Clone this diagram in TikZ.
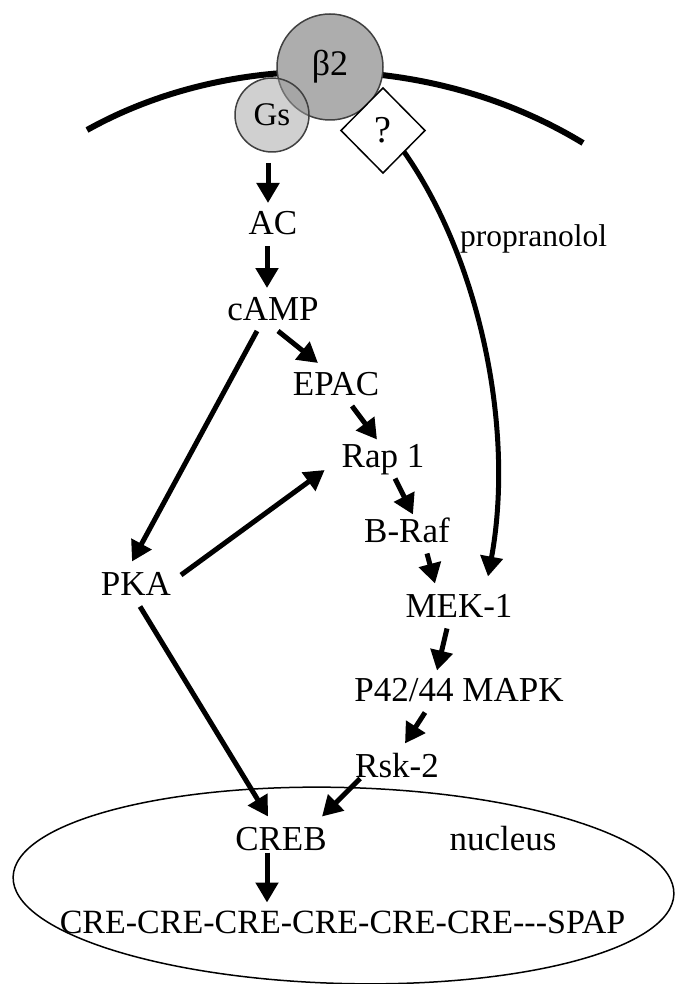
\documentclass[tikz,border=0pt]{standalone}
\usepackage{fontspec}
\setmainfont{Liberation Serif}
\usetikzlibrary{shapes.geometric,arrows.meta}

\definecolor{betagray}{gray}{0.68}
\definecolor{gsgray}{gray}{0.63}
\definecolor{rimgray}{gray}{0.25}

\begin{document}
\begin{tikzpicture}[x=1pt,y=-1pt,
  lbl/.style={font=\fontsize{35}{40}\selectfont, inner sep=0pt,
    outer xsep=0pt, outer ysep=11pt, text height=23pt, text depth=0pt},
  arr/.style={line width=5pt, -{Triangle[length=20pt,width=22pt]}},
  protein/.style={circle, draw=rimgray, line width=1.5pt, inner sep=0pt, outer sep=0pt}]
  \useasboundingbox (0,0) rectangle (675,984);

  % cell membrane
  \draw[line width=6pt] (87,130) .. controls (230,50) and (430,50) .. (583,143);

  % receptor, G protein and unknown partner
  \node[protein, fill=betagray, minimum size=106pt,
    font=\fontsize{36}{40}\selectfont] (beta) at (330,67) {β2};
  \node[protein, fill=gsgray, fill opacity=0.5, text opacity=1, minimum size=74pt,
    font=\fontsize{33}{36}\selectfont] (Gs) at (272,115) {Gs};
  \node[diamond, draw, fill=white, line width=1.5pt, inner sep=0pt, outer sep=0pt,
    minimum width=84pt, minimum height=85pt,
    font=\fontsize{38}{40}\selectfont] (Q) at (383,130.5) {?};

  % cytosol
  \node[lbl] (AC) at (273,223.5) {AC};
  \node[lbl] (cAMP) at (273,308.5) {cAMP};
  \node[lbl] (EPAC) at (336,383.5) {EPAC};
  \node[lbl] (Rap) at (383,456) {Rap 1};
  \node[lbl] (BRaf) at (407,531) {B-Raf};
  \node[lbl] (MEK) at (459,606) {MEK-1};
  \node[lbl] (MAPK) at (459,690) {P42/44 MAPK};
  \node[lbl] (Rsk) at (397,766) {Rsk-2};
  \node[lbl] (PKA) at (136,584) {PKA};
  \node[anchor=base west, inner sep=0pt, font=\fontsize{31.5}{34}\selectfont]
    (prop) at (460,247) {propranolol};

  % nucleus
  \draw[line width=1.5pt, rotate around={-1.5:(343.5,885.5)}]
    (343.5,885.5) ellipse [x radius=330.5, y radius=98];
  \node[lbl] (CREB) at (281,839) {CREB};
  \node[anchor=base, inner sep=0pt, font=\fontsize{35}{40}\selectfont]
    (nuc) at (503,850) {nucleus};
  \node[lbl, font=\fontsize{34}{40}\selectfont] (CRE) at (342.5,922)
    {CRE-CRE-CRE-CRE-CRE-CRE-{}-{}-SPAP};

  \draw[arr] ([xshift=-4pt,yshift=-11pt]Gs.south) -- ([xshift=-5pt,yshift=-2pt]AC.north);
  \draw[arr] ([xshift=-6pt]AC.south) -- ([xshift=-6pt,yshift=-2pt]cAMP.north);
  \draw[arr] ([xshift=5pt]cAMP.south) -- ([xshift=-18pt,yshift=-2pt]EPAC.north);
  \draw[arr] ([xshift=16pt]EPAC.south) -- ([xshift=-6pt,yshift=-6pt]Rap.north);
  \draw[arr] ([xshift=-16pt]cAMP.south) -- ([xshift=-4pt]PKA.north);
  \draw[arr] ([xshift=10pt,yshift=9pt]PKA.east) -- ([xshift=-17pt,yshift=-14pt]Rap.west);
  \draw[arr] ([xshift=12pt]Rap.south) -- ([xshift=6pt,yshift=-6pt]BRaf.north);
  \draw[arr] ([xshift=20pt]BRaf.south) -- ([xshift=-24pt]MEK.north);
  \draw[arr] (Q.south east) .. controls (480,260) and (515,430) .. ([xshift=29pt,yshift=7pt]MEK.north);
  \draw[arr] ([xshift=-12pt]MEK.south) -- ([xshift=-22pt,yshift=-3pt]MAPK.north);
  \draw[arr] ([xshift=-34pt]MAPK.south) -- ([xshift=8pt]Rsk.north);
  \draw[arr] ([xshift=5pt,yshift=10pt]Rsk.south west) -- ([xshift=41pt]CREB.north);
  \draw[arr] ([xshift=4pt]PKA.south) -- ([xshift=-13pt]CREB.north);
  \draw[arr] ([xshift=-14pt,yshift=9pt]CREB.south) -- ([xshift=-75.5pt,yshift=-3pt]CRE.north);
\end{tikzpicture}
\end{document}
